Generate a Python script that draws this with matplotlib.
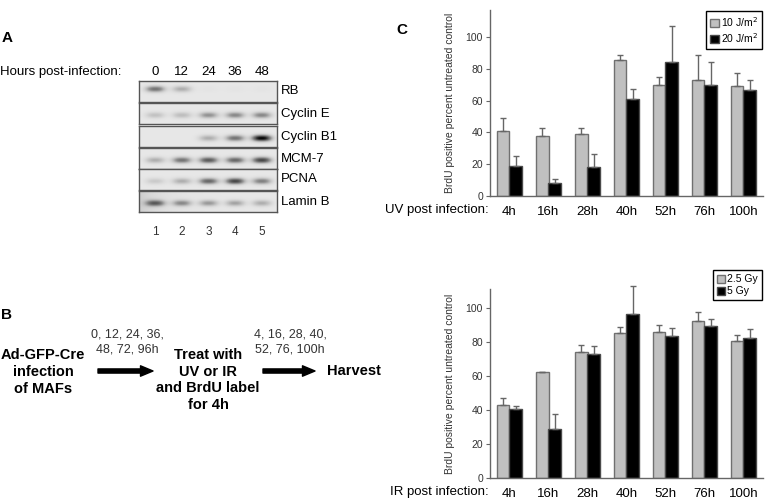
## Figure: Rb loss / BrdU after UV and IR (panels A, B, C)

import numpy as np
import matplotlib
matplotlib.use('Agg')
import matplotlib.pyplot as plt

plt.rcParams['font.family'] = ['Liberation Sans', 'DejaVu Sans']

# ---- data ----
hours_pi = ['0', '12', '24', '36', '48']
lanes = [1, 2, 3, 4, 5]
proteins = ['RB', 'Cyclin E', 'Cyclin B1', 'MCM-7', 'PCNA', 'Lamin B']
# band darkness per lane (0..1)
rb_bands = [0.50, 0.28, 0.02, 0.02, 0.02]
cyce_bands = [0.20, 0.22, 0.38, 0.42, 0.42]
cycb1_bands = [0.0, 0.0, 0.28, 0.50, 0.90]
mcm7_bands = [0.28, 0.50, 0.60, 0.55, 0.68]
pcna_bands = [0.16, 0.28, 0.55, 0.68, 0.45]
laminb_bands = [0.55, 0.40, 0.35, 0.32, 0.28]

time_points = ['4h', '16h', '28h', '40h', '52h', '76h', '100h']
uv_10 = [41, 38, 39, 85.5, 70, 73, 69]
uv_10_err = [8, 4.5, 4, 3, 5, 15.5, 8.5]
uv_20 = [19, 8, 18.5, 61, 84.5, 70, 66.5]
uv_20_err = [6, 2.5, 8, 6, 22.5, 14.5, 6.5]
ir_25 = [43, 62, 74, 85, 86, 92, 80.5]
ir_25_err = [4, 0.5, 4, 3.5, 4, 5.5, 3.5]
ir_5 = [40.5, 29, 73, 96.5, 83.5, 89, 82]
ir_5_err = [2, 8.5, 4.5, 16, 4.5, 4.5, 5.5]

W, H = 769, 504
fig = plt.figure(figsize=(W / 100, H / 100), dpi=100)


def box(x0, y0, x1, y1):
    # pixel box (top-left origin) -> figure fraction
    return [x0 / W, 1 - y1 / H, (x1 - x0) / W, (y1 - y0) / H]


# overlay for free text / schematic
ov = fig.add_axes([0, 0, 1, 1])
ov.set_xlim(0, W)
ov.set_ylim(H, 0)
ov.axis('off')

# ---- panel A: blot ----
ov.text(7, 38, 'A', fontsize=11, fontweight='bold', ha='center', va='center')
ov.text(0, 72, 'Hours post-infection:', fontsize=9.5, ha='left', va='center')

strip_tops = [81, 103, 126, 148, 169, 191]
strip_h = 21
bands = [rb_bands, cyce_bands, cycb1_bands, mcm7_bands, pcna_bands, laminb_bands]
xlo, xhi = 0.4, 5.56
xs = np.linspace(xlo, xhi, 220)
ys = np.linspace(0, 1, 40)
X, Y = np.meshgrid(xs, ys)
for i, (name, lev) in enumerate(zip(proteins, bands)):
    top = strip_tops[i]
    ax = fig.add_axes(box(139, top, 277, top + strip_h))
    img = np.full(X.shape, 0.19)
    yc = 0.62 if name == 'RB' else 0.42
    for lane, v in zip(lanes, lev):
        img += v * np.exp(-np.abs((X - lane) / 0.36) ** 2.5) * np.exp(-((Y - yc) / 0.15) ** 2)
    if name == 'Lamin B':
        img += 0.15 * np.exp(-(X - xlo) / 0.8)
    ax.imshow(img, extent=[xlo, xhi, 0, 1], origin='lower', aspect='auto',
              cmap='Greys', vmin=0, vmax=1.1, interpolation='bilinear')
    ax.set_xlim(xlo, xhi)
    ax.set_ylim(0, 1)
    ax.set_xticks([])
    ax.set_yticks([])
    for s in ax.spines.values():
        s.set_color('#555555')
        s.set_linewidth(1)
    ax.text(1.03, 0.5, name, transform=ax.transAxes, fontsize=9.5,
            ha='left', va='center')
    if i == 0:
        for lane, h in zip(lanes, hours_pi):
            ax.text(lane, 1.45, h, fontsize=9.5, ha='center', va='center')
    if i == len(proteins) - 1:
        for lane in lanes:
            ax.text(lane, -0.95, str(lane), fontsize=8.5, color='#333333',
                    ha='center', va='center')

# ---- panel B: schematic ----
ov.text(6, 315, 'B', fontsize=11, fontweight='bold', ha='center', va='center')
ov.text(43, 372, 'Ad-GFP-Cre\ninfection\nof MAFs', fontsize=10.5, fontweight='bold',
        ha='center', va='center', linespacing=1.25)
ov.text(127, 342, '0, 12, 24, 36,\n48, 72, 96h', fontsize=9, color='#333333',
        ha='center', va='center', linespacing=1.4)
ov.text(208, 380, 'Treat with\nUV or IR\nand BrdU label\nfor 4h', fontsize=10.5,
        fontweight='bold', ha='center', va='center', linespacing=1.25)
ov.text(290, 342, '4, 16, 28, 40,\n52, 76, 100h', fontsize=9, color='#333333',
        ha='center', va='center', linespacing=1.4)
ov.text(327, 371, 'Harvest', fontsize=10.5, fontweight='bold', ha='left', va='center')
arrow = dict(arrowstyle='simple,head_length=0.9,head_width=0.75,tail_width=0.3',
             color='black', shrinkA=0, shrinkB=0)
ov.annotate('', xy=(153, 371), xytext=(98, 371), arrowprops=arrow)
ov.annotate('', xy=(315, 371), xytext=(263, 371), arrowprops=arrow)

# ---- panel C: bar charts ----
ov.text(402, 30, 'C', fontsize=11, fontweight='bold', ha='center', va='center')


def bar_panel(rect, vals_a, err_a, vals_b, err_b, labels, ymax, xname, xname_y, leg_box):
    ax = fig.add_axes(rect)
    x = np.arange(len(time_points))
    w = 0.32
    ax.bar(x - w / 2, vals_a, w, color='#c0c0c0', edgecolor='#707070', linewidth=1.0,
           label=labels[0])
    ax.bar(x + w / 2, vals_b, w, color='black', edgecolor='#4a4a4a', linewidth=1.0,
           label=labels[1])
    ax.errorbar(x - w / 2, vals_a, yerr=[np.zeros(len(x)), err_a], fmt='none',
                ecolor='#666666', elinewidth=1, capsize=2.5, clip_on=False)
    ax.errorbar(x + w / 2, vals_b, yerr=[np.zeros(len(x)), err_b], fmt='none',
                ecolor='#666666', elinewidth=1, capsize=2.5, clip_on=False)
    ax.set_xlim(-0.5, len(x) - 0.5)
    ax.set_ylim(0, ymax)
    ax.set_yticks([0, 20, 40, 60, 80, 100])
    ax.set_xticks(x)
    ax.set_xticklabels(time_points, fontsize=9.5)
    ax.tick_params(axis='x', length=0, pad=7)
    ax.tick_params(axis='y', length=3, color='#666666', labelsize=7.5,
                   labelcolor='#333333', pad=2)
    for s in ['top', 'right']:
        ax.spines[s].set_visible(False)
    for s in ['left', 'bottom']:
        ax.spines[s].set_color('#666666')
        ax.spines[s].set_linewidth(1)
    ax.set_ylabel('BrdU positive percent untreated control', fontsize=7.5,
                  color='#333333', labelpad=8)
    ov.text(489, xname_y, xname, fontsize=9.5, ha='right', va='center')
    ax.legend(loc='upper right', bbox_to_anchor=leg_box, bbox_transform=fig.transFigure,
              fontsize=7.5, frameon=True, fancybox=False, edgecolor='black',
              handlelength=0.8, handleheight=0.8, handletextpad=0.2,
              borderpad=0.4, borderaxespad=0, labelspacing=0.2, framealpha=1)
    return ax


bar_panel(box(490, 10, 763, 196), uv_10, uv_10_err, uv_20, uv_20_err,
          ['10 J/m$^2$', '20 J/m$^2$'], 117, 'UV post infection:', 210,
          (762 / W, 1 - 11 / H))
bar_panel(box(490, 289, 763, 478), ir_25, ir_25_err, ir_5, ir_5_err,
          ['2.5 Gy', '5 Gy'], 111, 'IR post infection:', 492,
          (762 / W, 1 - 270 / H))

fig.savefig('out.png', dpi=100)
